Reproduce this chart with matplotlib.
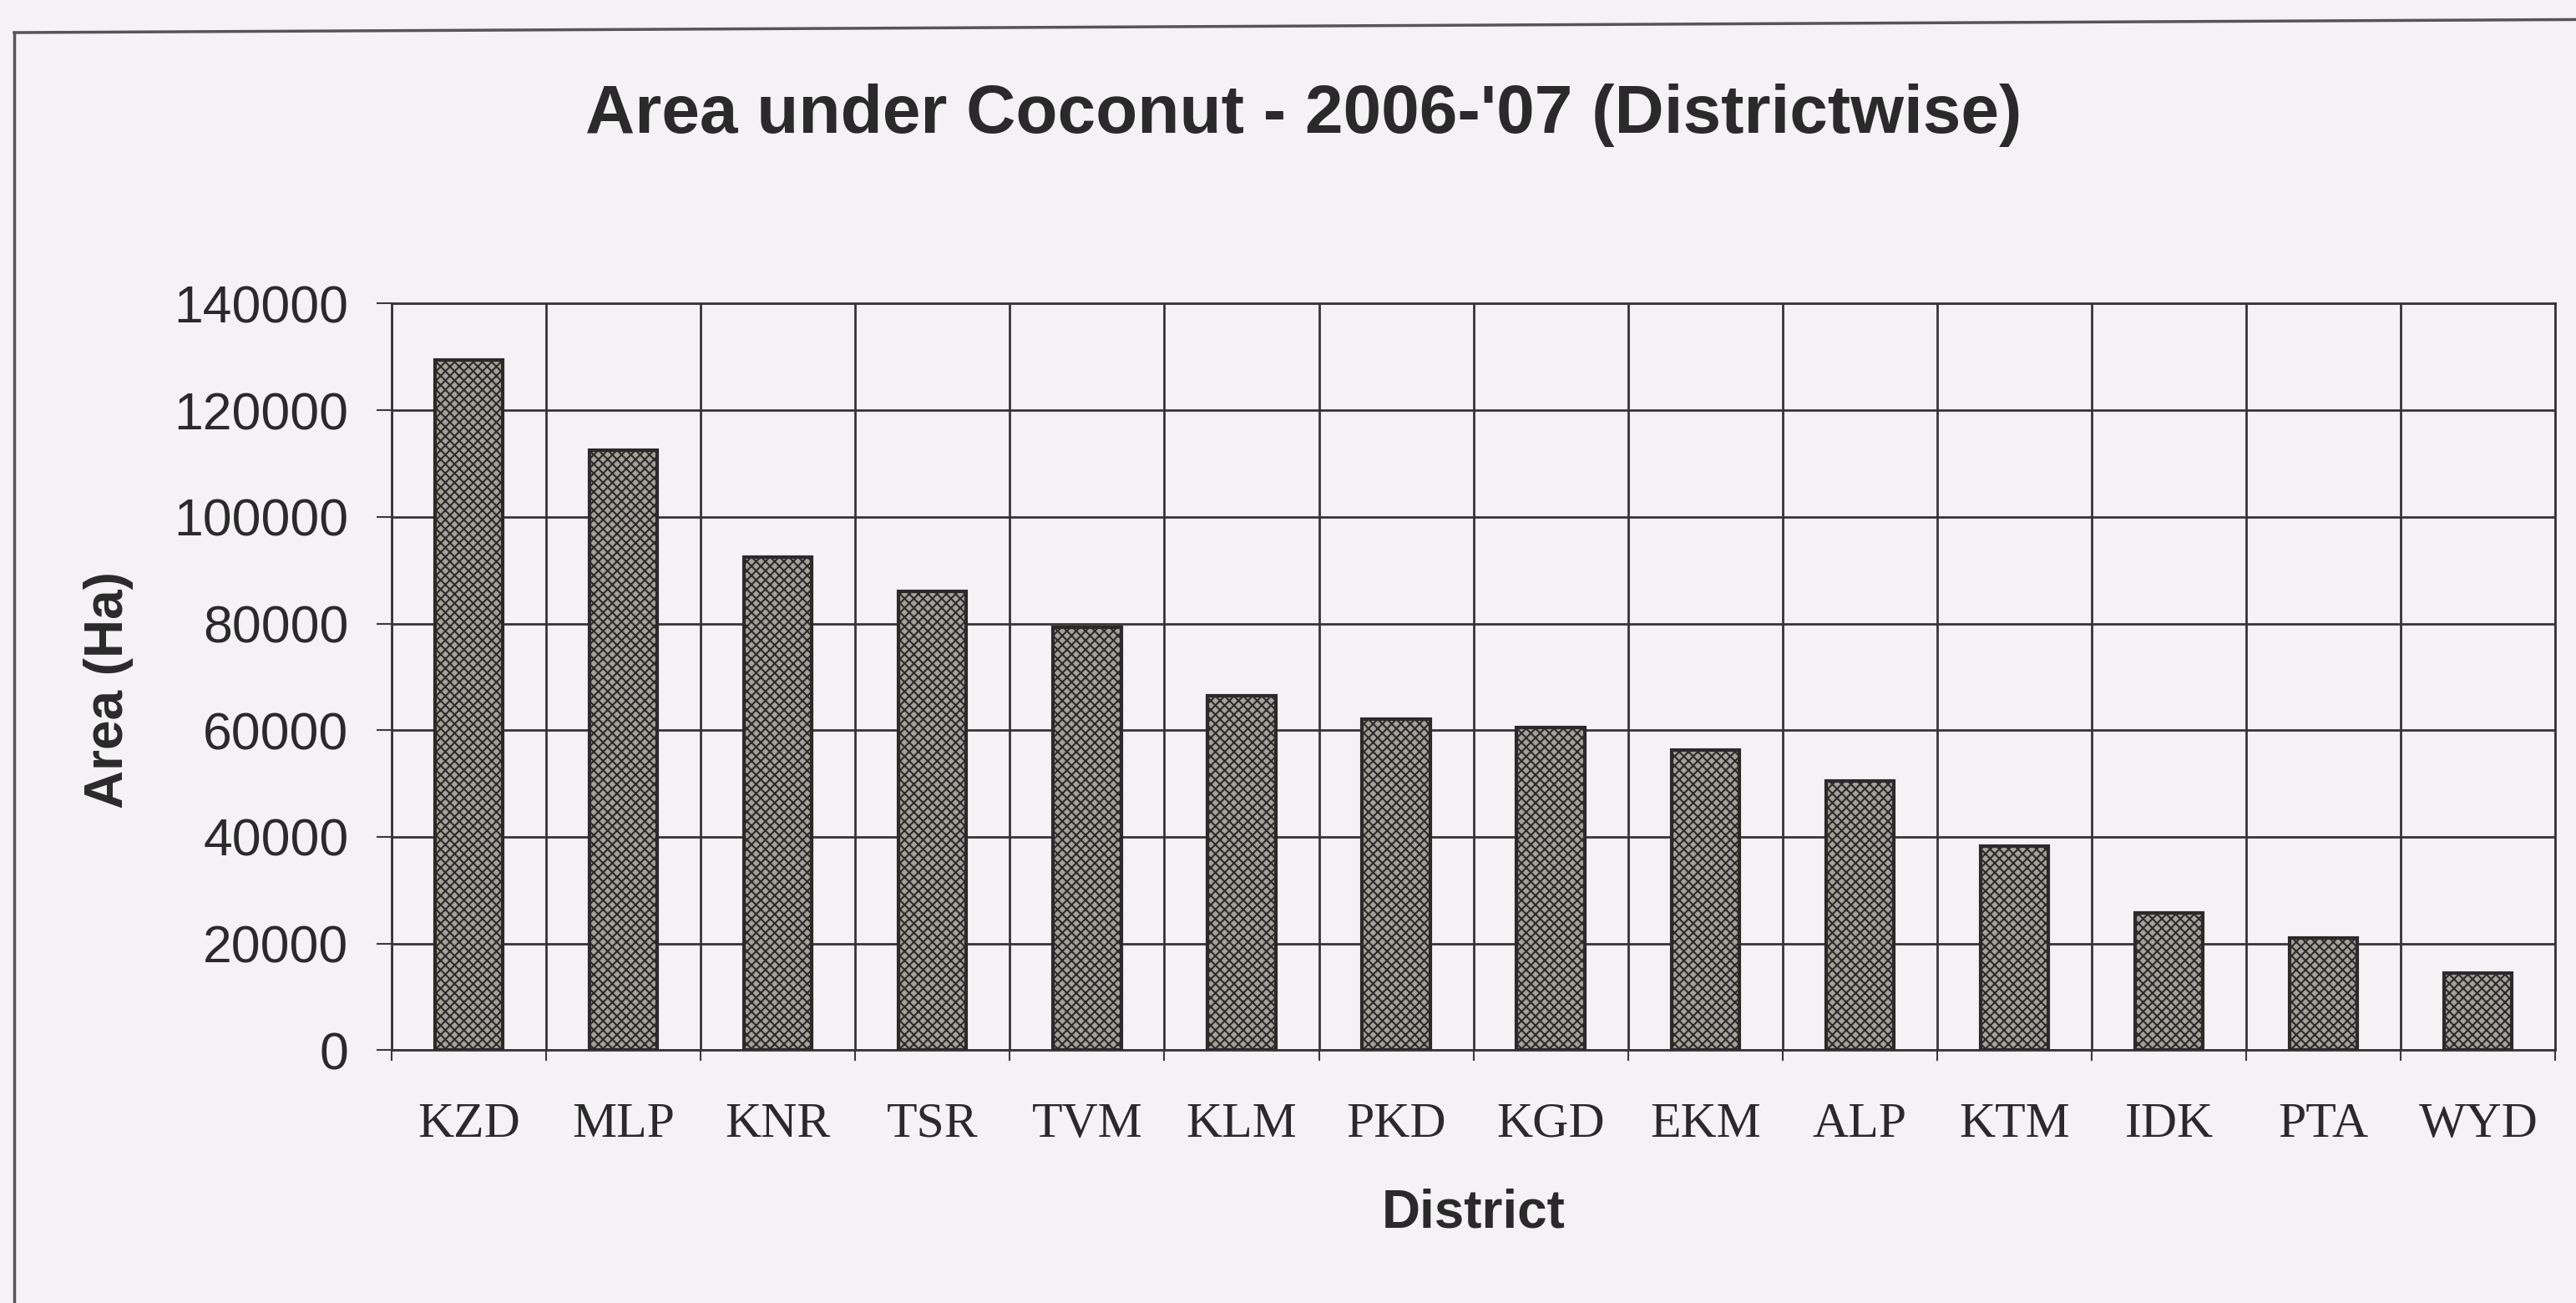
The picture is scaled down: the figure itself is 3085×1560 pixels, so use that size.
import numpy as np
import matplotlib
matplotlib.use("Agg")
import matplotlib.pyplot as plt
from matplotlib.lines import Line2D

# =============================================================================== #
# DADOS

distritos = ["KZD", "MLP", "KNR", "TSR", "TVM", "KLM", "PKD",
             "KGD", "EKM", "ALP", "KTM", "IDK", "PTA", "WYD"]
area_ha = [129500, 112500, 92500, 86000, 79300, 66500, 62000,
           60500, 56300, 50500, 38200, 25800, 21000, 14400]
yticks = [0, 20000, 40000, 60000, 80000, 100000, 120000, 140000]

titulo = "Area under Coconut - 2006-'07 (Districtwise)"
xlabel = "District"
ylabel = "Area (Ha)"

# =============================================================================== #
# GRAFICO

papel = "#f4f2f4"
tinta = "#2a2a2a"
plt.rcParams["hatch.color"] = "#3a3a38"
plt.rcParams["hatch.linewidth"] = 1.5

fig = plt.figure(figsize=(30.85, 15.6), dpi=100, facecolor=papel)
ax = fig.add_axes([0.152, 0.194, 0.840, 0.573], facecolor=papel)

n = len(distritos)
x = np.arange(n) + 0.5
ax.bar(x, area_ha, width=0.44, facecolor="#a3a199", edgecolor="#2a2a2a",
       linewidth=3, hatch="xxx", zorder=3)

ax.set_xlim(0, n)
ax.set_ylim(0, 140000)

# linhas de grade entre categorias
ax.set_xticks(np.arange(n + 1))
ax.set_xticks(x, minor=True)
ax.set_xticklabels([])
ax.set_xticklabels(distritos, minor=True, family="Liberation Serif",
                   fontsize=43, color=tinta)
ax.tick_params(axis="x", which="major", length=9, width=1.5, color="#3a3a3a",
               direction="out")
ax.tick_params(axis="x", which="minor", length=0, pad=45)

ax.set_yticks(yticks)
ax.set_yticklabels([str(v) for v in yticks], family="Liberation Sans",
                   fontsize=45, color=tinta)
ax.tick_params(axis="y", length=13, width=1.5, color="#3a3a3a", pad=24)

ax.grid(True, which="major", color="#353535", linewidth=2.0, zorder=0)
for s in ax.spines.values():
    s.set_color("#353535")
    s.set_linewidth(2.0)

fig.text(0.506, 0.9115, titulo, ha="center", va="center",
         family="Liberation Sans", fontweight="bold", fontsize=59, color=tinta)
fig.text(0.042, 0.4705, ylabel, ha="center", va="center", rotation=90,
         family="Liberation Sans", fontweight="bold", fontsize=46, color=tinta)
fig.text(0.572, 0.069, xlabel, ha="center", va="center",
         family="Liberation Sans", fontweight="bold", fontsize=46, color=tinta)

# moldura do grafico
fig.add_artist(Line2D([0.0055, 1.0], [0.975, 0.985], transform=fig.transFigure,
                      color="#555555", linewidth=2.5))
fig.add_artist(Line2D([0.0055, 0.0055], [0.0, 0.975], transform=fig.transFigure,
                      color="#555555", linewidth=2.5))

fig.savefig("out.png", dpi=100, facecolor=papel)
